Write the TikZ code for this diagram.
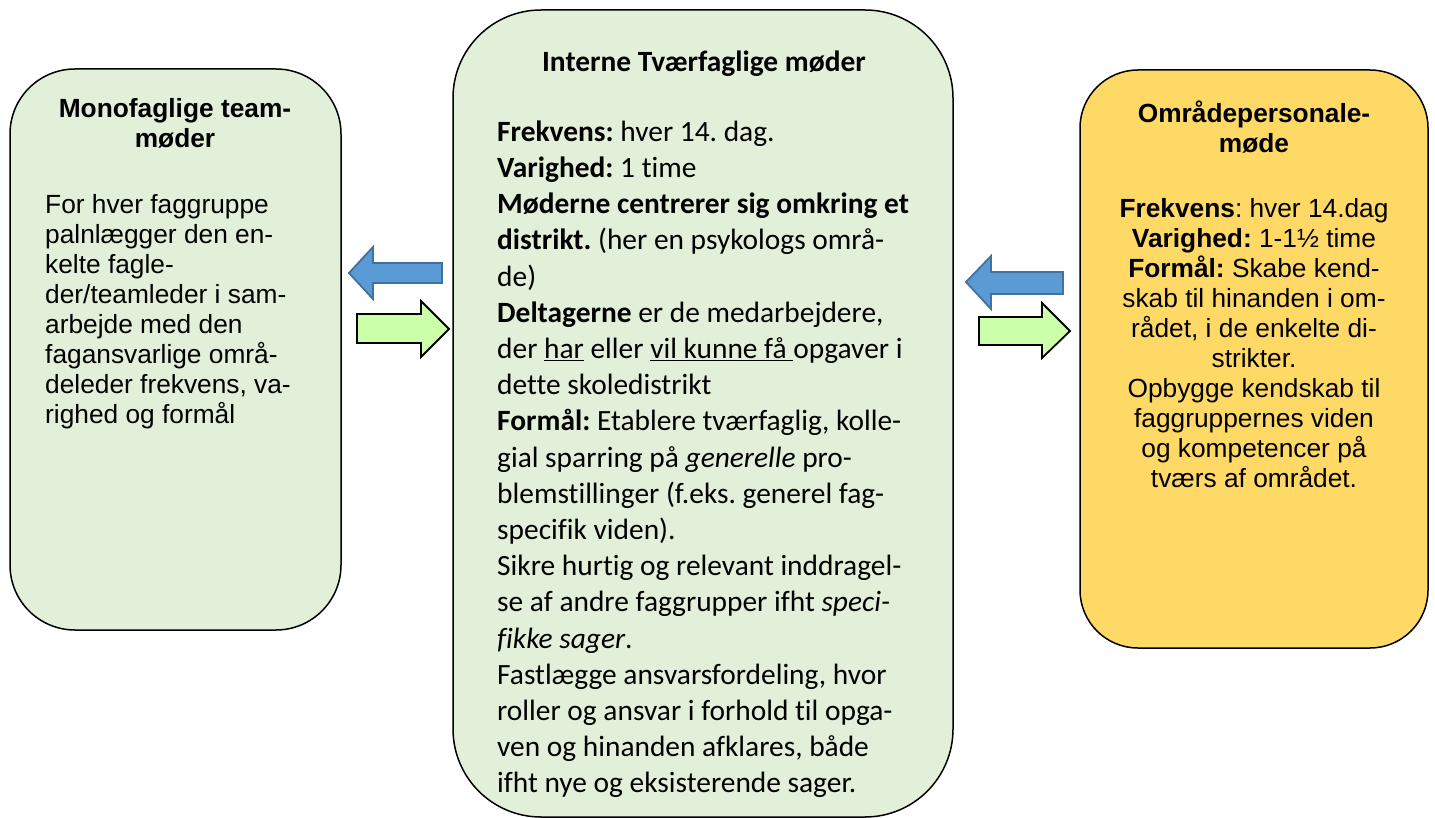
\documentclass[tikz,border=0pt]{standalone}
\usepackage{fontspec}
\newfontfamily\calibri[Ligatures=NoCommon]{Carlito}
\newfontfamily\arial{Liberation Sans}
\definecolor{boxgreen}{HTML}{E2EFD9}
\definecolor{boxyellow}{HTML}{FFD966}
\definecolor{arrblue}{HTML}{5B9BD5}
\definecolor{arrblueline}{HTML}{41719C}
\definecolor{arrgreen}{HTML}{CCFFAA}
\tikzset{
  boxshape/.style={draw=black, line width=1.5pt},
  bluearr/.style={fill=arrblue, draw=arrblueline, line width=1.8pt, line join=miter},
  greenarr/.style={fill=arrgreen, draw=black, line width=1.8pt, line join=miter},
  ctxt/.style={inner sep=0pt, font=\calibri\fontsize{29.4}{36.2}\selectfont},
  atxt/.style={inner sep=0pt, font=\arial\fontsize{26.3}{30}\selectfont},
}
\frenchspacing
\begin{document}
\begin{tikzpicture}[x=1pt,y=-1pt]
\useasboundingbox (0,0) rectangle (1435,818);
% boxes
\node[boxshape, fill=boxgreen, rounded corners=65pt, minimum width=331pt, minimum height=561pt, inner sep=0pt] (mono) at (175.5,349.5) {};
\node[boxshape, fill=boxgreen, rounded corners=88pt, minimum width=500pt, minimum height=807pt, inner sep=0pt] (intern) at (703,413.5) {};
\node[boxshape, fill=boxyellow, rounded corners=58pt, minimum width=348pt, minimum height=578pt, inner sep=0pt] (omr) at (1254,359) {};
% arrows left pair
\draw[bluearr] (349,273) -- (373,247) -- (373,263) -- (442,263) -- (442,283) -- (373,283) -- (373,299) -- cycle;
\draw[greenarr] (449,329) -- (421,301) -- (421,314) -- (357,314) -- (357,343) -- (421,343) -- (421,357) -- cycle;
% arrows right pair
\draw[bluearr] (966,282) -- (991,256) -- (991,272) -- (1063,272) -- (1063,294) -- (991,294) -- (991,309) -- cycle;
\draw[greenarr] (1070,331) -- (1042,303) -- (1042,317) -- (979,317) -- (979,345) -- (1042,345) -- (1042,358) -- cycle;
% left texts
\node[atxt, align=center, anchor=north] (monotitle) at (175,117-25) {\rule{0pt}{25pt}\bfseries Monofaglige team-\\\bfseries møder};
\node[atxt, align=left, anchor=north west] (monobody) at (45,213-25) {\rule{0pt}{25pt}For hver faggruppe\\
palnlægger den en-\\
kelte fagle-\\
der/teamleder i sam-\\
arbejde med den\\
fagansvarlige områ-\\
deleder frekvens, va-\\
righed og formål};
% center texts
\node[ctxt, align=center, anchor=north] (interntitle) at (704,71-28) {\rule{0pt}{28pt}\bfseries Interne Tværfaglige møder};
\node[ctxt, align=left, anchor=north west] (internbody) at (497,141-28) {\rule{0pt}{28pt}\textbf{Frekvens:} hver 14. dag.\\
\textbf{Varighed:} 1 time\\
\textbf{Møderne centrerer sig omkring et}\\
\textbf{distrikt.} (her en psykologs områ-\\
de)\\
\textbf{Deltagerne} er de medarbejdere,\\
der \underline{har} eller \underline{vil kunne få\ }opgaver i\\
dette skoledistrikt\\
\textbf{Formål:} Etablere tværfaglig, kolle-\\
gial sparring på \textit{generelle} pro-\\
blemstillinger (f.eks. generel fag-\\
specifik viden).\\
Sikre hurtig og relevant inddragel-\\
se af andre faggrupper ifht \textit{speci-}\\
\textit{fikke sager}.\\
Fastlægge ansvarsfordeling, hvor\\
roller og ansvar i forhold til opga-\\
ven og hinanden afklares, både\\
ifht nye og eksisterende sager.};
% right texts
\node[atxt, align=center, anchor=north] (omrtitle) at (1254,122-25) {\rule{0pt}{25pt}\bfseries Områdepersonale-\\\bfseries møde};
\node[atxt, align=center, anchor=north] (omrbody) at (1254,217-25) {\rule{0pt}{25pt}\textbf{Frekvens}: hver 14.dag\\
\textbf{Varighed:} 1-1½ time\\
\textbf{Formål:} Skabe kend-\\
skab til hinanden i om-\\
rådet, i de enkelte di-\\
strikter.\\
Opbygge kendskab til\\
faggruppernes viden\\
og kompetencer på\\
tværs af området.};
\end{tikzpicture}
\end{document}
